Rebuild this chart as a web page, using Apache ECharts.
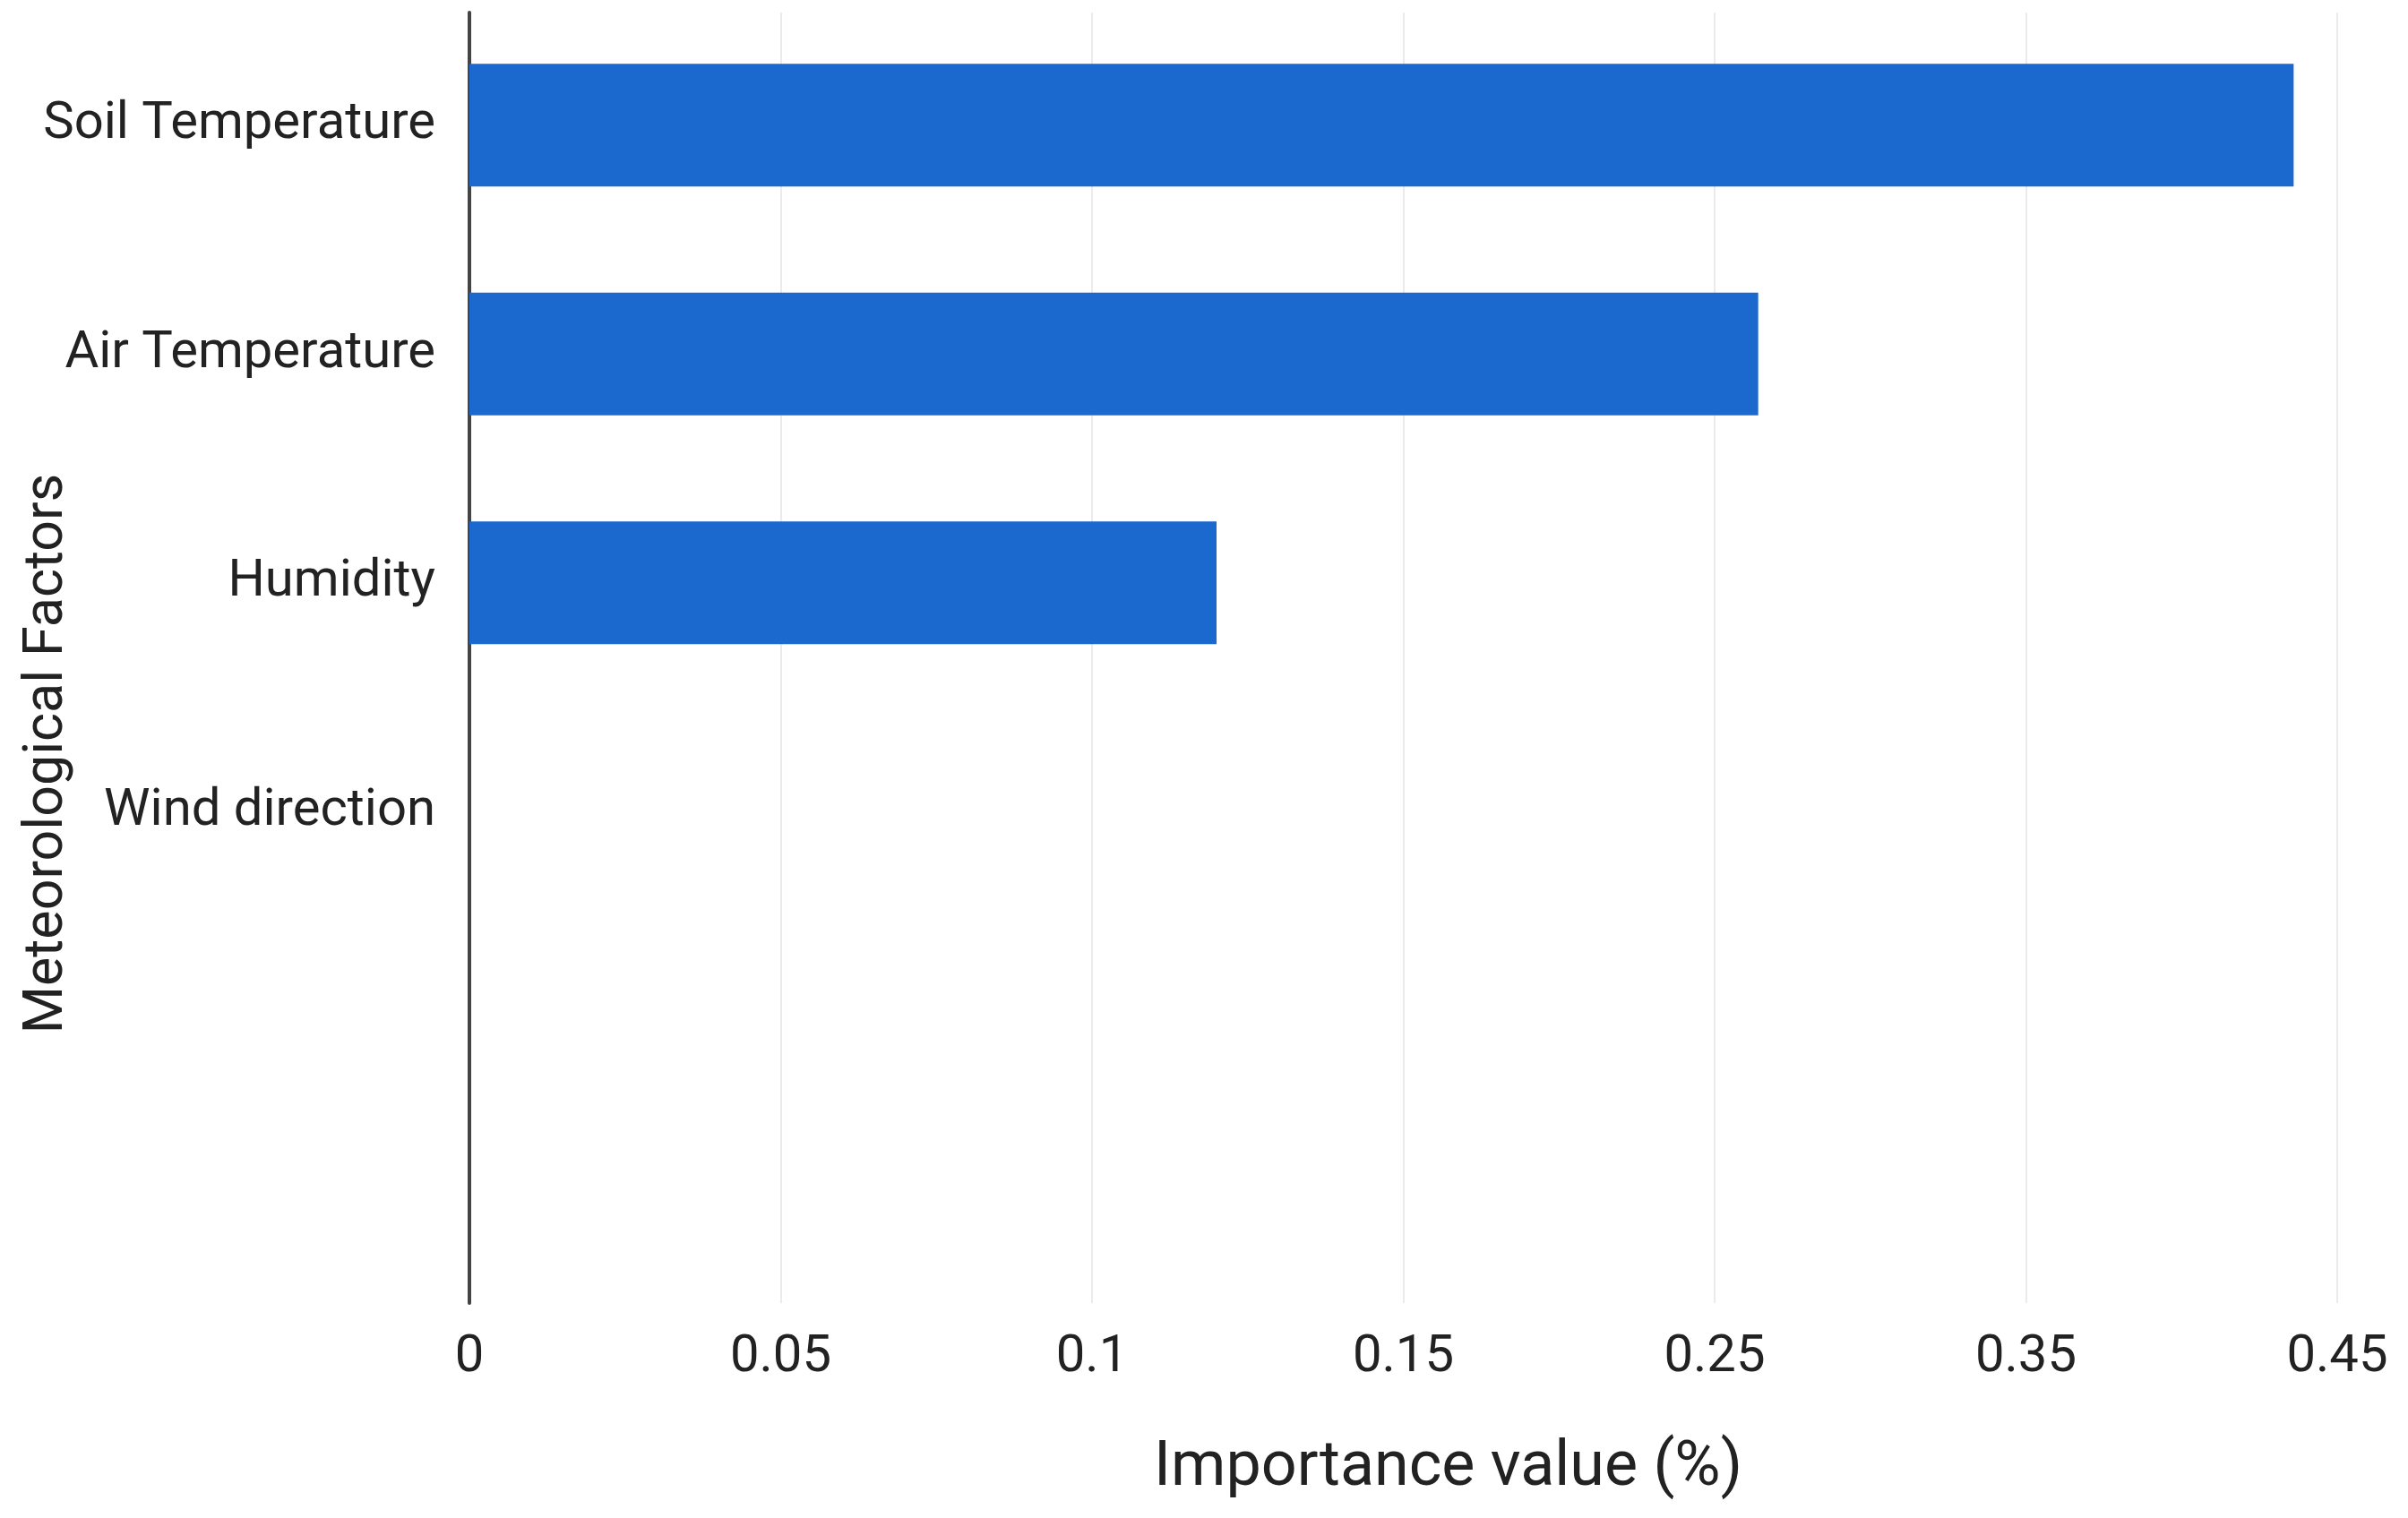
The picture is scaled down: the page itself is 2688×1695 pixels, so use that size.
<!DOCTYPE html>
<html>
<head>
<meta charset="utf-8">
<script src="https://cdn.jsdelivr.net/npm/echarts@6/dist/echarts.min.js"></script>
<style>
html,body{margin:0;padding:0;background:#fff;}
#chart{width:2688px;height:1695px;}
</style>
</head>
<body>
<div id="chart"></div>
<script>
// Data
const categories = ['Soil Temperature', 'Air Temperature', 'Humidity', 'Wind direction'];
const importanceValues = [0.436, 0.264, 0.12, 0];
// Tick labels exactly as printed on the reference axis (evenly spaced)
const tickValues = [0, 0.05, 0.1, 0.15, 0.25, 0.35, 0.45];
const tickLabels = ['0', '0.05', '0.1', '0.15', '0.25', '0.35', '0.45'];
const xAxisTitle = 'Importance value (%)';
const yAxisTitle = 'Meteorological Factors';

// The printed axis is piecewise-linear between its evenly spaced ticks:
// convert an importance value to its tick-slot position on that axis.
function toAxisPos(v) {
  for (let i = 0; i < tickValues.length - 1; i++) {
    const a = tickValues[i], b = tickValues[i + 1];
    if (v <= b || i === tickValues.length - 2) {
      return i + (v - a) / (b - a);
    }
  }
  return 0;
}

const FONT = 'Roboto';
const chart = echarts.init(document.getElementById('chart'), null, {renderer: 'canvas'});
const option = {
  backgroundColor: '#ffffff',
  animation: false,
  grid: [
    {left: 524, right: 79, top: 14, bottom: 240, containLabel: false, outerBoundsMode: 'none'},
    {left: 524, right: 79, top: 12, height: 1022, containLabel: false, outerBoundsMode: 'none'}
  ],
  xAxis: [
    {
      gridIndex: 0,
      type: 'value',
      min: 0,
      max: tickValues.length - 1,
      interval: 1,
      axisLine: {show: false},
      axisTick: {show: false},
      splitLine: {show: true, lineStyle: {color: '#ebebeb', width: 2}},
      axisLabel: {
        formatter: function (v) { return tickLabels[Math.round(v)]; },
        fontFamily: FONT, fontSize: 58, color: '#222', margin: 32
      },
      name: xAxisTitle,
      nameLocation: 'middle',
      nameGap: 150,
      nameTextStyle: {fontFamily: FONT, fontSize: 70, color: '#222', padding: [0, 0, 0, 100]}
    },
    {
      gridIndex: 1,
      type: 'value',
      min: 0,
      max: tickValues.length - 1,
      interval: 1,
      show: false
    }
  ],
  yAxis: [
    {
      gridIndex: 0,
      type: 'value',
      min: 0, max: 1,
      axisLine: {show: true, lineStyle: {color: '#444', width: 4}},
      axisTick: {show: false},
      axisLabel: {show: false},
      splitLine: {show: false},
      name: yAxisTitle,
      nameLocation: 'middle',
      nameGap: 440,
      nameRotate: 90,
      nameTextStyle: {fontFamily: FONT, fontSize: 61, color: '#222', padding: [0, 214, 0, 0]}
    },
    {
      gridIndex: 1,
      type: 'category',
      inverse: true,
      data: categories,
      axisLine: {show: false},
      axisTick: {show: false},
      splitLine: {show: false},
      axisLabel: {fontFamily: FONT, fontSize: 58, color: '#222', margin: 38}
    }
  ],
  series: [
    {
      type: 'bar',
      xAxisIndex: 1,
      yAxisIndex: 1,
      data: importanceValues.map(toAxisPos),
      barWidth: 137,
      itemStyle: {color: '#1b69ce'}
    }
  ]
};
chart.setOption(option);
</script>
</body>
</html>
